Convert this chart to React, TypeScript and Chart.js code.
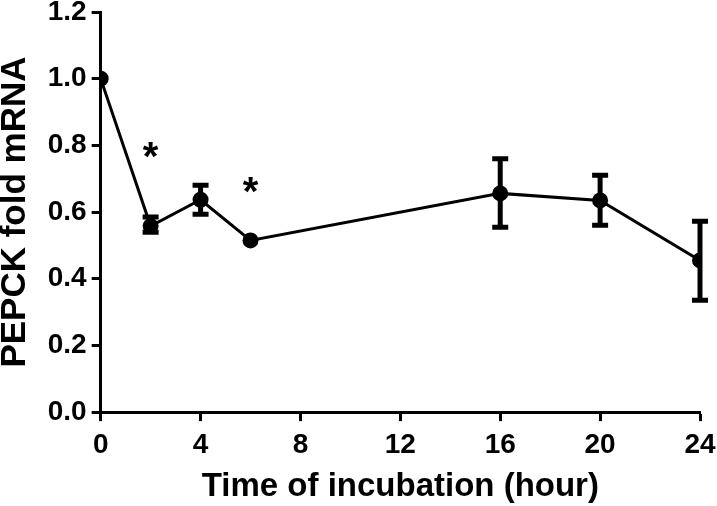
import React, { useEffect, useRef } from "react";
import { Chart, registerables } from "chart.js";

Chart.register(...registerables);

const hours = [0, 2, 4, 6, 16, 20, 24];
const foldMRNA = [1.0, 0.558, 0.637, 0.515, 0.656, 0.635, 0.455];
const errLow = [1.0, 0.535, 0.589, 0.515, 0.55, 0.556, 0.331];
const errHigh = [1.0, 0.59, 0.685, 0.515, 0.764, 0.715, 0.577];
const starHours = [2, 6];
const starValues = [0.78, 0.675];

const FONT = "'Liberation Sans', Arial, sans-serif";

const errorBarPlugin = {
  id: "errorBars",
  afterDatasetsDraw(chart: any) {
    const { ctx, scales } = chart;
    const xs = scales.x;
    const ys = scales.y;
    ctx.save();
    ctx.strokeStyle = "#000";
    ctx.lineCap = "butt";
    for (let i = 0; i < hours.length; i++) {
      if (errHigh[i] - errLow[i] < 0.02) continue;
      const px = xs.getPixelForValue(hours[i]);
      const yl = ys.getPixelForValue(errLow[i]);
      const yh = ys.getPixelForValue(errHigh[i]);
      ctx.lineWidth = 5;
      ctx.beginPath();
      ctx.moveTo(px, yl);
      ctx.lineTo(px, yh);
      ctx.stroke();
      ctx.beginPath();
      ctx.moveTo(px - 8, yl - 1.5);
      ctx.lineTo(px + 8, yl - 1.5);
      ctx.moveTo(px - 8, yh + 1.5);
      ctx.lineTo(px + 8, yh + 1.5);
      ctx.stroke();
    }
    ctx.fillStyle = "#000";
    const fs = 40;
    ctx.font = `bold ${fs}px ${FONT}`;
    ctx.textAlign = "center";
    ctx.textBaseline = "alphabetic";
    for (let i = 0; i < starHours.length; i++) {
      const px = xs.getPixelForValue(starHours[i]);
      const py = ys.getPixelForValue(starValues[i]);
      ctx.fillText("*", px, py + 0.45 * fs);
    }
    ctx.restore();
  },
};

export default function App() {
  const ref = useRef<HTMLCanvasElement>(null);
  useEffect(() => {
    if (!ref.current) return;
    const chart = new Chart(ref.current, {
      type: "scatter",
      data: {
        datasets: [
          {
            data: hours.map((h, i) => ({ x: h, y: foldMRNA[i] })),
            showLine: true,
            borderColor: "#000",
            backgroundColor: "#000",
            borderWidth: 3,
            pointRadius: 8,
            pointBackgroundColor: "#000",
            pointBorderWidth: 0,
          },
        ],
      },
      options: {
        responsive: false,
        animation: false,
        devicePixelRatio: 1,
        layout: { padding: { left: 0, right: 0, top: 0, bottom: 0 } },
        plugins: { legend: { display: false }, tooltip: { enabled: false } },
        scales: {
          x: {
            type: "linear",
            min: 0,
            max: 24,
            afterFit: (s: any) => {
              s.paddingRight = 17;
            },
            border: { display: true, color: "#000", width: 3 },
            grid: {
              display: true,
              drawOnChartArea: false,
              drawTicks: true,
              tickLength: 9,
              tickWidth: 3,
              tickColor: "#000",
            },
            ticks: {
              stepSize: 4,
              color: "#000",
              padding: 7,
              font: { family: FONT, size: 28, weight: "bold" },
            },
            title: {
              display: true,
              text: "Time of incubation (hour)",
              color: "#000",
              font: { family: FONT, size: 33, weight: "bold", lineHeight: 1.13 },
              padding: { top: 0, bottom: 0 },
            },
          },
          y: {
            min: 0,
            max: 1.2,
            afterFit: (s: any) => {
              s.paddingTop = 12;
            },
            border: { display: true, color: "#000", width: 3 },
            grid: {
              display: true,
              drawOnChartArea: false,
              drawTicks: true,
              tickLength: 9,
              tickWidth: 3,
              tickColor: "#000",
            },
            ticks: {
              stepSize: 0.2,
              color: "#000",
              padding: 5,
              font: { family: FONT, size: 28, weight: "bold", lineHeight: 0.85 },
              callback: (v: any) => Number(v).toFixed(1),
            },
            title: {
              display: true,
              text: "PEPCK fold mRNA",
              color: "#000",
              font: { family: FONT, size: 35, weight: "bold", lineHeight: 0.85 },
              padding: { top: 0, bottom: 13 },
            },
          },
        },
      },
      plugins: [errorBarPlugin],
    });
    return () => chart.destroy();
  }, []);
  return (
    <div style={{ position: "fixed", left: 0, top: 0, width: 717, height: 506, background: "#fff" }}>
      <canvas ref={ref} width={717} height={506} style={{ width: 717, height: 506 }} />
    </div>
  );
}
